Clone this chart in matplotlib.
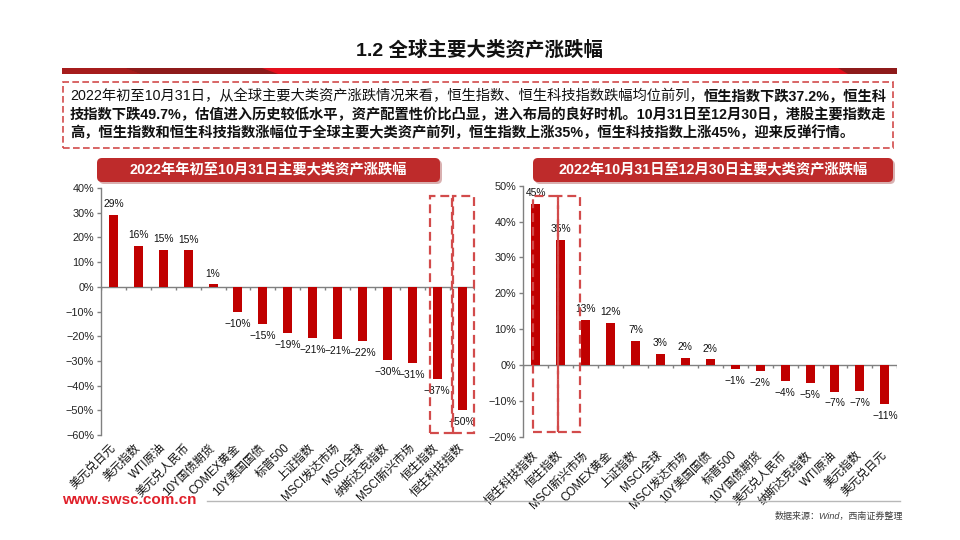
import matplotlib
matplotlib.use('Agg')
import matplotlib.pyplot as plt
from matplotlib.patches import Rectangle, FancyBboxPatch, Polygon
from matplotlib.transforms import IdentityTransform
from matplotlib.lines import Line2D
import numpy as np

plt.rcParams['font.family'] = ['Liberation Sans', 'Noto Sans CJK SC', 'DejaVu Sans']
plt.rcParams['axes.unicode_minus'] = True

# ---------------- data ----------------
left_categories = ['美元兑日元', '美元指数', 'WTI原油', '美元兑人民币', '10Y国债期货', 'COMEX黄金',
                   '10Y美国国债', '标普500', '上证指数', 'MSCI发达市场', 'MSCI全球', '纳斯达克指数',
                   'MSCI新兴市场', '恒生指数', '恒生科技指数']
left_values = [29.2, 16.5, 15.1, 14.8, 1.0, -10.4, -15.2, -18.8, -20.6, -21.0, -22.0, -29.8,
               -30.8, -37.2, -49.7]

right_categories = ['恒生科技指数', '恒生指数', 'MSCI新兴市场', 'COMEX黄金', '上证指数', 'MSCI全球',
                    'MSCI发达市场', '10Y美国国债', '标普500', '10Y国债期货', '美元兑人民币',
                    '纳斯达克指数', 'WTI原油', '美元指数', '美元兑日元']
right_values = [44.9, 34.9, 12.6, 11.7, 6.7, 3.2, 2.0, 1.6, -1.0, -1.7, -4.4, -5.0, -7.4, -7.3, -10.9]

left_yticks = list(range(-60, 41, 10))
right_yticks = list(range(-20, 51, 10))

title = '1.2 全球主要大类资产涨跌幅'
left_title = '2022年年初至10月31日主要大类资产涨跌幅'
right_title = '2022年10月31日至12月30日主要大类资产涨跌幅'
para_line1_normal = '2022年初至10月31日，从全球主要大类资产涨跌情况来看，恒生指数、恒生科技指数跌幅均位前列，'
para_line1_bold = '恒生指数下跌37.2%，恒生科'
para_line2 = '技指数下跌49.7%，估值进入历史较低水平，资产配置性价比凸显，进入布局的良好时机。10月31日至12月30日，港股主要指数走'
para_line3 = '高，恒生指数和恒生科技指数涨幅位于全球主要大类资产前列，恒生指数上涨35%，恒生科技指数上涨45%，迎来反弹行情。'
website = 'www.swsc.com.cn'
source = '数据来源：Wind，西南证券整理'

# ---------------- figure ----------------
W, H = 960, 540
fig = plt.figure(figsize=(9.6, 5.4), dpi=100)
fig.patch.set_facecolor('white')
ID = IdentityTransform()

def fx(x):
    return x / W

def fy(y):
    return 1 - y / H

BAR = '#c00000'
AXC = '#808080'
BOX = '#d24b4b'

# title
fig.text(fx(480), fy(50), title, ha='center', va='center', fontsize=14, weight='bold',
         color='#111111')
# title band
def poly(pts, color):
    p = Polygon([(x, H - y) for x, y in pts], closed=True, transform=ID, fc=color, ec='none')
    fig.add_artist(p)

poly([(62, 68), (897, 68), (897, 74), (62, 74)], '#e3101d')
poly([(62, 68), (125, 68), (140, 74), (62, 74)], '#a61c1c')
poly([(125, 68), (262, 68), (278, 74), (140, 74)], '#8e1a1a')
poly([(838, 68), (897, 68), (897, 74), (848, 74)], '#8e1a1a')

# paragraph box
rect = Rectangle((63, H - 148), 830, 66, transform=ID, fill=False, ec=BOX, lw=1.2,
                 ls=(0, (4, 2)))
fig.add_artist(rect)

pfs = 10.3
t1 = fig.text(fx(70), fy(96), para_line1_normal, ha='left', va='center', fontsize=pfs,
              color='#111111')
fig.canvas.draw()
bb = t1.get_window_extent(renderer=fig.canvas.get_renderer())
fig.text(bb.x1 / W, fy(96), para_line1_bold, ha='left', va='center', fontsize=pfs,
         weight='bold', color='#111111')
fig.text(fx(70), fy(115), para_line2, ha='left', va='center', fontsize=pfs, weight='bold',
         color='#111111')
fig.text(fx(70), fy(133), para_line3, ha='left', va='center', fontsize=pfs, weight='bold',
         color='#111111')

# chart headers
def header(x0, x1, y0, y1, text):
    sh = FancyBboxPatch((x0 + 2, H - y1 - 2), x1 - x0, y1 - y0,
                        boxstyle='round,pad=0,rounding_size=5', transform=ID,
                        fc='#d9b0b0', ec='none')
    fig.add_artist(sh)
    p = FancyBboxPatch((x0, H - y1), x1 - x0, y1 - y0,
                       boxstyle='round,pad=0,rounding_size=5', transform=ID,
                       fc='#be2b2b', ec='none')
    fig.add_artist(p)
    fig.text(fx((x0 + x1) / 2), fy((y0 + y1) / 2), text, ha='center', va='center',
             fontsize=10.3, weight='bold', color='white')

header(97, 440, 158, 182, left_title)
header(533, 893, 158, 182, right_title)

def pct(v):
    return f'{int(round(v))}%'.replace('-', '\u2212')

def bar_chart(rect_px, cats, vals, ylim, yticks, boxes, pad):
    x0, x1, ytop, ybot = rect_px
    ax = fig.add_axes([fx(x0), fy(ybot), (x1 - x0) / W, (ybot - ytop) / H])
    n = len(cats)
    xs = np.arange(n)
    ax.bar(xs, vals, width=0.36, color=BAR, edgecolor='none', zorder=3)
    ax.set_xlim(-0.5, n - 0.5)
    ax.set_ylim(*ylim)
    for s in ['top', 'right', 'bottom']:
        ax.spines[s].set_visible(False)
    ax.spines['left'].set_color(AXC)
    ax.spines['left'].set_linewidth(1)
    ax.axhline(0, color=AXC, lw=1, zorder=2)
    tl = 3.0 / (ybot - ytop) * (ylim[1] - ylim[0])
    ax.vlines(np.arange(n + 1) - 0.5, -tl, 0, color=AXC, lw=1, zorder=2)
    ax.set_yticks(yticks)
    ax.set_yticklabels([pct(v) for v in yticks], fontsize=7.8, color='#222222')
    ax.tick_params(axis='y', length=3, width=1, color=AXC, pad=2)
    ax.set_xticks(xs)
    ax.set_xticklabels(cats, rotation=45, ha='right', va='center', rotation_mode='anchor',
                       fontsize=8.4, color='#111111')
    ax.tick_params(axis='x', length=0, pad=pad)
    for xi, v in zip(xs, vals):
        if v >= 0:
            ax.annotate(pct(v), (xi, v), xytext=(0, 4), textcoords='offset points',
                        ha='center', va='bottom', fontsize=7.4, color='#111111', zorder=4)
        else:
            ax.annotate(pct(v), (xi, v), xytext=(0, -5), textcoords='offset points',
                        ha='center', va='top', fontsize=7.4, color='#111111', zorder=4)
    for (bx, by, bw, bh) in boxes:
        ax.add_patch(Rectangle((bx, by), bw, bh, fill=False, ec=BOX, lw=1.6,
                               ls=(0, (4, 2.2)), clip_on=False, zorder=5))
    return ax

bar_chart((101, 474.5, 188, 435), left_categories, left_values, (-60, 40), left_yticks,
          [(12.71, -59.0, 0.87, 95.6), (13.63, -59.0, 0.86, 95.6)], pad=8)
bar_chart((523.3, 897.3, 185.7, 436.7), right_categories, right_values, (-20, 50), right_yticks,
          [(-0.1, -18.8, 0.98, 66.0), (0.88, -18.8, 0.89, 66.0)], pad=12)

# footer
fig.text(fx(62), fy(500), website, ha='left', va='center', fontsize=11, weight='bold',
         color='#e0202a')
fig.add_artist(Line2D([fx(207), fx(900)], [fy(501), fy(501)], color='#b8b8b8', lw=1))
fig.text(fx(775), fy(516), source, ha='left', va='center', fontsize=6.5, color='#404040',
         style='italic')

fig.savefig('out.png', dpi=100)
